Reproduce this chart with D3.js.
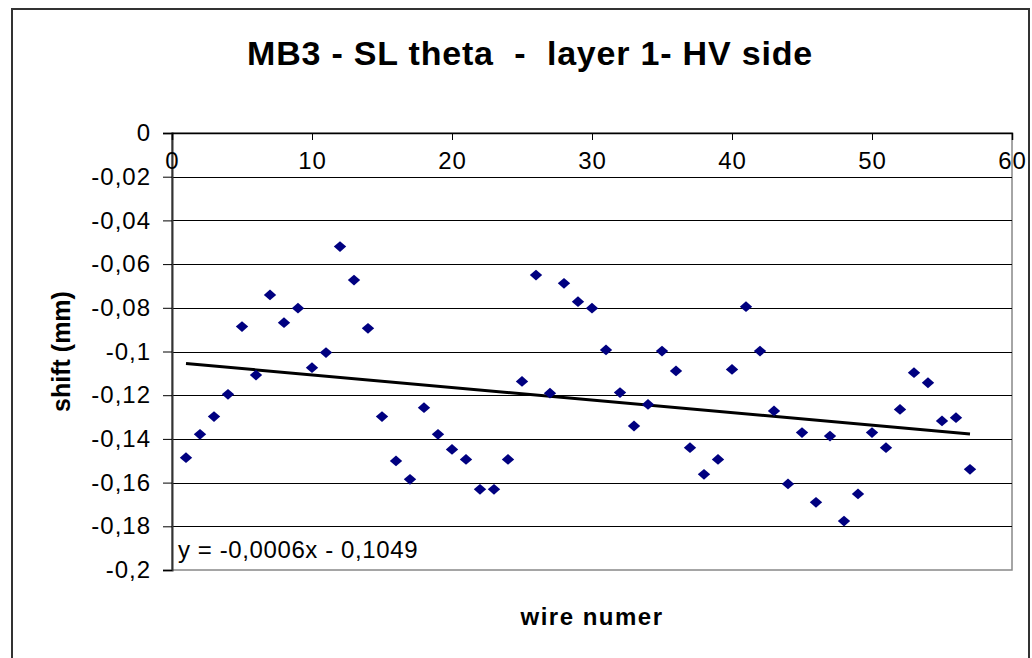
<!DOCTYPE html>
<html>
<head>
<meta charset="utf-8">
<script src="https://cdn.jsdelivr.net/npm/d3@7"></script>
<style>
  html, body { margin: 0; padding: 0; background: #fff; }
  svg { display: block; font-family: "Liberation Sans", Arial, sans-serif; }
</style>
</head>
<body>
<svg id="chart" width="1032" height="658"></svg>
<script>
const TITLE = "MB3 - SL theta  -  layer 1- HV side";
const X_LABEL = "wire numer";
const Y_LABEL = "shift (mm)";
const EQUATION = "y = -0,0006x - 0,1049";

const wire = [
  1, 2, 3, 4, 5, 6, 7, 8, 9, 10, 11, 12, 13, 14, 15, 16, 17, 18, 19,
  20, 21, 22, 23, 24, 25, 26, 27, 28, 29, 30, 31, 32, 33, 34, 35, 36, 37, 38,
  39, 40, 41, 42, 43, 44, 45, 46, 47, 48, 49, 50, 51, 52, 53, 54, 55, 56, 57,
];
const shift = [
  -0.1486, -0.1379, -0.1298, -0.1196, -0.0886, -0.1108, -0.0741, -0.0868, -0.0802, -0.1074,
  -0.1005, -0.0520, -0.0673, -0.0894, -0.1298, -0.1501, -0.1585, -0.1257, -0.1379, -0.1448,
  -0.1494, -0.1631, -0.1631, -0.1494, -0.1137, -0.0650, -0.1191, -0.0688, -0.0772, -0.0802,
  -0.0993, -0.1188, -0.1341, -0.1242, -0.0998, -0.1089, -0.1440, -0.1562, -0.1494, -0.1082,
  -0.0795, -0.0998, -0.1272, -0.1606, -0.1371, -0.1690, -0.1387, -0.1776, -0.1652, -0.1371,
  -0.1440, -0.1265, -0.1097, -0.1143, -0.1318, -0.1303, -0.1539,
];
const xTicks = [0, 10, 20, 30, 40, 50, 60];
const yTicks = [0, -0.02, -0.04, -0.06, -0.08, -0.1, -0.12, -0.14, -0.16, -0.18, -0.2];

const PLOT = { left: 172, right: 1012, top: 133, bottom: 570 };

const svg = d3.select("#chart");

// outer chart frame
svg.append("rect")
  .attr("x", 12).attr("y", 9)
  .attr("width", 1017).attr("height", 660)
  .attr("fill", "#fff")
  .attr("stroke", "#333")
  .attr("stroke-width", 2);

const x = d3.scaleLinear().domain([0, 60]).range([PLOT.left, PLOT.right]);
const y = d3.scaleLinear().domain([-0.2, 0]).range([PLOT.bottom, PLOT.top]);

const fmt = (v) => String(+v.toFixed(2)).replace(".", ",");

// plot area border (grey)
svg.append("rect")
  .attr("x", PLOT.left).attr("y", PLOT.top)
  .attr("width", PLOT.right - PLOT.left).attr("height", PLOT.bottom - PLOT.top)
  .attr("fill", "none")
  .attr("stroke", "#888")
  .attr("stroke-width", 1.5);

// horizontal gridlines
svg.append("g")
  .selectAll("line")
  .data(yTicks.filter((d) => d < 0 && d > -0.2))
  .join("line")
  .attr("x1", PLOT.left).attr("x2", PLOT.right)
  .attr("y1", (d) => Math.round(y(d)) + 0.5)
  .attr("y2", (d) => Math.round(y(d)) + 0.5)
  .attr("stroke", "#000")
  .attr("stroke-width", 1);

// y axis
const yAxis = svg.append("g")
  .attr("transform", `translate(${PLOT.left},0)`)
  .call(d3.axisLeft(y).tickValues(yTicks).tickFormat(fmt).tickSize(9).tickPadding(12));
yAxis.select(".domain").attr("stroke", "#333").attr("stroke-width", 2);
yAxis.selectAll(".tick line").attr("stroke", "#000");
yAxis.selectAll(".tick text")
  .attr("font-size", 24)
  .attr("letter-spacing", 1)
  .attr("fill", "#000");

// x axis sits on y = 0, at the top of the plot, labels below it
const xAxis = svg.append("g")
  .attr("transform", `translate(0,${y(0)})`)
  .call(d3.axisBottom(x).tickValues(xTicks).tickSize(7).tickPadding(12));
xAxis.select(".domain").attr("stroke", "#000").attr("stroke-width", 1.5);
xAxis.selectAll(".tick line").attr("stroke", "#000");
xAxis.selectAll(".tick text")
  .attr("font-size", 24)
  .attr("letter-spacing", 1)
  .attr("fill", "#000");

// linear trend line (least squares over the points)
const n = wire.length;
const mx = d3.mean(wire);
const my = d3.mean(shift);
const slope = d3.sum(wire, (w, i) => (w - mx) * (shift[i] - my)) /
  d3.sum(wire, (w) => (w - mx) * (w - mx));
const icpt = my - slope * mx;
const trendX = [d3.min(wire), d3.max(wire)];

svg.append("path")
  .datum(trendX.map((w) => [w, icpt + slope * w]))
  .attr("fill", "none")
  .attr("stroke", "#000")
  .attr("stroke-width", 3)
  .attr("d", d3.line().x((d) => x(d[0])).y((d) => y(d[1])));

// markers
svg.append("g")
  .selectAll("path")
  .data(wire.map((w, i) => [w, shift[i]]))
  .join("path")
  .attr("d", d3.symbol(d3.symbolSquare, 58))
  .attr("transform", (d) => `translate(${x(d[0])},${y(d[1])}) scale(1.15,1) rotate(45)`)
  .attr("fill", "#000080");

// equation label
svg.append("text")
  .attr("x", 178).attr("y", 558)
  .attr("font-size", 24)
  .attr("letter-spacing", 0.6)
  .text(EQUATION);

// title
svg.append("text")
  .attr("x", 530).attr("y", 65)
  .attr("text-anchor", "middle")
  .attr("font-size", 34)
  .attr("font-weight", "bold")
  .attr("letter-spacing", 0.8)
  .style("white-space", "pre")
  .text(TITLE);

// axis titles
svg.append("text")
  .attr("x", (PLOT.left + PLOT.right) / 2).attr("y", 625)
  .attr("text-anchor", "middle")
  .attr("font-size", 24)
  .attr("font-weight", "bold")
  .attr("letter-spacing", 1.5)
  .text(X_LABEL);

svg.append("text")
  .attr("transform", `translate(70,${(PLOT.top + PLOT.bottom) / 2}) rotate(-90)`)
  .attr("text-anchor", "middle")
  .attr("font-size", 25)
  .attr("font-weight", "bold")
  .text(Y_LABEL);
</script>
</body>
</html>
